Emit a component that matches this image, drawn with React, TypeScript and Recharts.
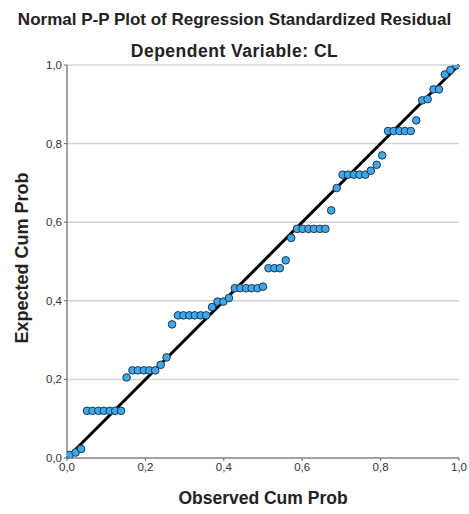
import React from "react";
import {
  ScatterChart,
  Scatter,
  XAxis,
  YAxis,
  CartesianGrid,
  ReferenceLine,
} from "recharts";

const observedCumProb: number[] = [
  0.007, 0.022, 0.036, 0.051, 0.065, 0.08, 0.094, 0.109, 0.123, 0.138,
  0.152, 0.167, 0.181, 0.196, 0.21, 0.225, 0.239, 0.254, 0.268, 0.283,
  0.297, 0.312, 0.326, 0.341, 0.355, 0.37, 0.384, 0.399, 0.413, 0.428,
  0.442, 0.457, 0.471, 0.486, 0.5, 0.514, 0.529, 0.543, 0.558, 0.572,
  0.587, 0.601, 0.616, 0.63, 0.645, 0.659, 0.674, 0.688, 0.703, 0.717,
  0.732, 0.746, 0.761, 0.775, 0.79, 0.804, 0.819, 0.833, 0.848, 0.862,
  0.877, 0.891, 0.906, 0.92, 0.935, 0.949, 0.964, 0.978, 0.993,
];

const expectedCumProb: number[] = [
  0.008, 0.014, 0.023, 0.12, 0.12, 0.12, 0.12, 0.12, 0.12, 0.12,
  0.205, 0.223, 0.223, 0.223, 0.223, 0.223, 0.237, 0.256, 0.34, 0.363,
  0.363, 0.363, 0.363, 0.363, 0.363, 0.384, 0.398, 0.398, 0.407, 0.432,
  0.432, 0.432, 0.432, 0.432, 0.436, 0.483, 0.483, 0.483, 0.503, 0.56,
  0.583, 0.583, 0.583, 0.583, 0.583, 0.583, 0.63, 0.687, 0.721, 0.721,
  0.721, 0.721, 0.721, 0.731, 0.746, 0.77, 0.832, 0.832, 0.832, 0.832,
  0.832, 0.859, 0.91, 0.913, 0.938, 0.938, 0.976, 0.987, 0.999,
];

const tickValues: number[] = [0, 0.2, 0.4, 0.6, 0.8, 1.0];
const tickLabels: string[] = ["0,0", "0,2", "0,4", "0,6", "0,8", "1,0"];

const chartTitle = "Normal P-P Plot of Regression Standardized Residual";
const chartSubtitle = "Dependent Variable: CL";
const xTitle = "Observed Cum Prob";
const yTitle = "Expected Cum Prob";

const points = observedCumProb.map((x, i) => ({ x, y: expectedCumProb[i] }));

const fmt = (v: number) => {
  const idx = tickValues.findIndex((t) => Math.abs(t - v) < 1e-6);
  return idx >= 0 ? tickLabels[idx] : String(v);
};

const Dot = (props: any) => {
  const { cx, cy } = props;
  if (cx == null || cy == null) return null;
  return (
    <circle cx={cx} cy={cy} r={3.8} fill="#3ea8ea" stroke="#1d3550" strokeWidth={1} />
  );
};

const FONT = "'Liberation Sans', Arial, sans-serif";

export default function App() {
  return (
    <div
      style={{
        position: "absolute",
        left: 0,
        top: 0,
        width: 469,
        height: 514,
        background: "#fff",
        fontFamily: FONT,
      }}
    >
      <ScatterChart
        width={469}
        height={514}
        margin={{ top: 65, right: 10, bottom: 0, left: 0 }}
      >
        <CartesianGrid
          horizontal={true}
          vertical={false}
          stroke="#d4d4d4"
          strokeWidth={1.5}
          horizontalValues={tickValues}
        />
        <XAxis
          type="number"
          dataKey="x"
          domain={[0, 1]}
          ticks={tickValues}
          tickFormatter={fmt}
          height={56}
          axisLine={{ stroke: "#666", strokeWidth: 1.2 }}
          tickLine={{ stroke: "#666" }}
          tickSize={3}
          tick={{ fill: "#333", fontSize: 11.5, fontFamily: FONT }}
          allowDataOverflow
        />
        <YAxis
          type="number"
          dataKey="y"
          domain={[0, 1]}
          ticks={tickValues}
          tickFormatter={fmt}
          width={67}
          axisLine={{ stroke: "#666", strokeWidth: 1.2 }}
          tickLine={{ stroke: "#666" }}
          tickSize={3}
          tick={{ fill: "#333", fontSize: 11.5, fontFamily: FONT }}
          allowDataOverflow
        />
        <Scatter data={points} shape={<Dot />} isAnimationActive={false} />
        <ReferenceLine
          segment={[
            { x: 0, y: 0 },
            { x: 1, y: 1 },
          ]}
          stroke="#000"
          strokeWidth={3}
          ifOverflow="visible"
        />
      </ScatterChart>
      <div
        style={{
          position: "absolute",
          left: 0,
          width: 469,
          top: 10,
          textAlign: "center",
          fontWeight: "bold",
          fontSize: 17,
          color: "#222",
          whiteSpace: "nowrap",
        }}
      >
        {chartTitle}
      </div>
      <div
        style={{
          position: "absolute",
          left: 0,
          width: 469,
          top: 41,
          textAlign: "center",
          fontWeight: "bold",
          fontSize: 17.5,
          letterSpacing: 0.5,
          color: "#222",
          whiteSpace: "nowrap",
        }}
      >
        {chartSubtitle}
      </div>
      <div
        style={{
          position: "absolute",
          left: 67,
          width: 392,
          top: 488,
          textAlign: "center",
          fontWeight: "bold",
          fontSize: 17.5,
          color: "#222",
          whiteSpace: "nowrap",
        }}
      >
        {xTitle}
      </div>
      <div
        style={{
          position: "absolute",
          left: 22,
          top: 258,
          transform: "translate(-50%, -50%) rotate(-90deg)",
          fontWeight: "bold",
          fontSize: 18,
          color: "#222",
          whiteSpace: "nowrap",
        }}
      >
        {yTitle}
      </div>
    </div>
  );
}
